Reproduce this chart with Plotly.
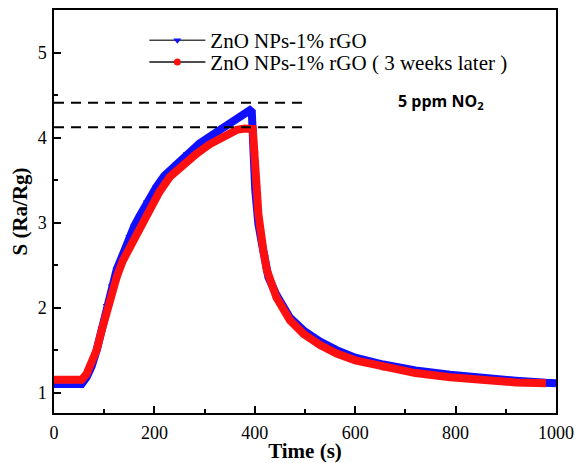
import plotly.graph_objects as go

# ---- data ----
t_fresh = [0, 20, 40, 55, 65, 75, 85, 95, 105, 115, 125, 137, 150, 160, 171, 185,
           204, 220, 244, 265, 290, 315, 337, 360, 375, 390, 394, 397, 398, 399, 400,
           401, 403, 407, 413, 420, 427, 443, 470, 497, 530, 563, 600, 656, 720,
           789, 850, 920, 980, 1000]
s_fresh = [1.10, 1.10, 1.095, 1.10, 1.18, 1.31, 1.50, 1.75, 2.02, 2.25, 2.45, 2.62,
           2.83, 2.96, 3.08, 3.24, 3.42, 3.55, 3.69, 3.81, 3.93, 4.03, 4.12, 4.21,
           4.26, 4.32, 4.30, 4.05, 3.85, 3.65, 3.50, 3.38, 3.23, 2.99, 2.79, 2.60,
           2.36, 2.15, 1.88, 1.73, 1.60, 1.50, 1.41, 1.33, 1.26, 1.21, 1.17, 1.14,
           1.115, 1.11]

t_aged = [0, 20, 40, 55, 65, 75, 85, 95, 105, 115, 125, 137, 150, 158, 175, 191,
          210, 231, 255, 284, 310, 337, 364, 380, 392, 396, 397, 400, 401, 402, 404,
          405, 407, 410, 417, 424, 443, 470, 497, 530, 563, 600, 656, 720, 789, 850,
          920, 980]
s_aged = [1.15, 1.15, 1.145, 1.15, 1.22, 1.34, 1.50, 1.73, 1.97, 2.17, 2.36, 2.55,
          2.70, 2.79, 3.00, 3.18, 3.36, 3.54, 3.67, 3.81, 3.92, 4.01, 4.09, 4.105,
          4.11, 4.10, 4.01, 3.83, 3.64, 3.53, 3.42, 3.30, 3.11, 2.91, 2.67, 2.44,
          2.12, 1.85, 1.69, 1.56, 1.46, 1.38, 1.30, 1.23, 1.18, 1.15, 1.12, 1.11]

ref_levels = [4.41, 4.12]
ref_span = [0, 507]

names = ["ZnO NPs-1% rGO", "ZnO NPs-1% rGO ( 3 weeks later )"]
x_ticks = [0, 200, 400, 600, 800, 1000]
y_ticks = [1, 2, 3, 4, 5]

BLUE = "#1010ff"
RED = "#ff1010"
serif = "Liberation Serif"

fig = go.Figure()

# legend traces (thin dark line + markers), drawn under the bands
fig.add_trace(go.Scatter(x=t_fresh, y=s_fresh, name=names[0], mode="lines+markers",
                         line=dict(color="#444444", width=1.5), legend="legend",
                         marker=dict(symbol="triangle-down", color=BLUE, size=7)))
fig.add_trace(go.Scatter(x=t_aged, y=s_aged, name=names[1], mode="lines+markers",
                         line=dict(color="#111111", width=1.5), legend="legend2",
                         marker=dict(symbol="circle", color=RED, size=7)))
# dense-marker bands
fig.add_trace(go.Scatter(x=t_fresh, y=s_fresh, mode="lines", showlegend=False,
                         line=dict(color=BLUE, width=8), hoverinfo="skip"))
fig.add_trace(go.Scatter(x=t_aged, y=s_aged, mode="lines", showlegend=False,
                         line=dict(color=RED, width=8), hoverinfo="skip"))
# dashed reference levels
for lv in ref_levels:
    fig.add_trace(go.Scatter(x=ref_span, y=[lv, lv], mode="lines", showlegend=False,
                             line=dict(color="black", width=2, dash="10px,7px"),
                             hoverinfo="skip"))

fig.add_annotation(x=771, y=4.42, xref="x", yref="y", showarrow=False,
                   text="<b>5 ppm NO<sub>2</sub></b>",
                   font=dict(family="Open Sans", size=16, color="black"))

axis_common = dict(showline=True, linecolor="black", linewidth=1.5, mirror=True,
                   ticks="inside", tickcolor="black", tickwidth=1.5, ticklen=7,
                   showgrid=False, zeroline=False, automargin=False,
                   tickfont=dict(family=serif, size=18, color="black"))

fig.update_xaxes(range=[0, 1000], tickvals=x_ticks, ticklabelstandoff=3,
                 minor=dict(ticks="inside", dtick=100, tick0=0, ticklen=4,
                            tickcolor="black", tickwidth=1.5, showgrid=False),
                 title=dict(text="<b>Time (s)</b>", standoff=0,
                            font=dict(family=serif, size=21, color="black")),
                 **axis_common)
fig.update_yaxes(range=[0.76, 5.5], tickvals=y_ticks, ticklabelstandoff=2,
                 minor=dict(ticks="inside", dtick=0.5, tick0=0, ticklen=4,
                            tickcolor="black", tickwidth=1.5, showgrid=False),
                 title=dict(text="<b>S (Ra/Rg)</b>", standoff=8,
                            font=dict(family=serif, size=21, color="black")),
                 **axis_common)

legend_common = dict(xanchor="left", yanchor="middle", bgcolor="rgba(0,0,0,0)",
                     itemwidth=56, tracegroupgap=0,
                     font=dict(family=serif, size=21, color="black"))
# the page body adds an 8px offset, so the figure is 8px smaller and margins compensate
fig.update_layout(
    width=575, height=455,
    margin=dict(l=46, r=27, t=2, b=50),
    paper_bgcolor="white", plot_bgcolor="white",
    legend=dict(x=0.18, y=0.924, **legend_common),
    legend2=dict(x=0.18, y=0.870, **legend_common),
)

fig.write_html("out.html")
